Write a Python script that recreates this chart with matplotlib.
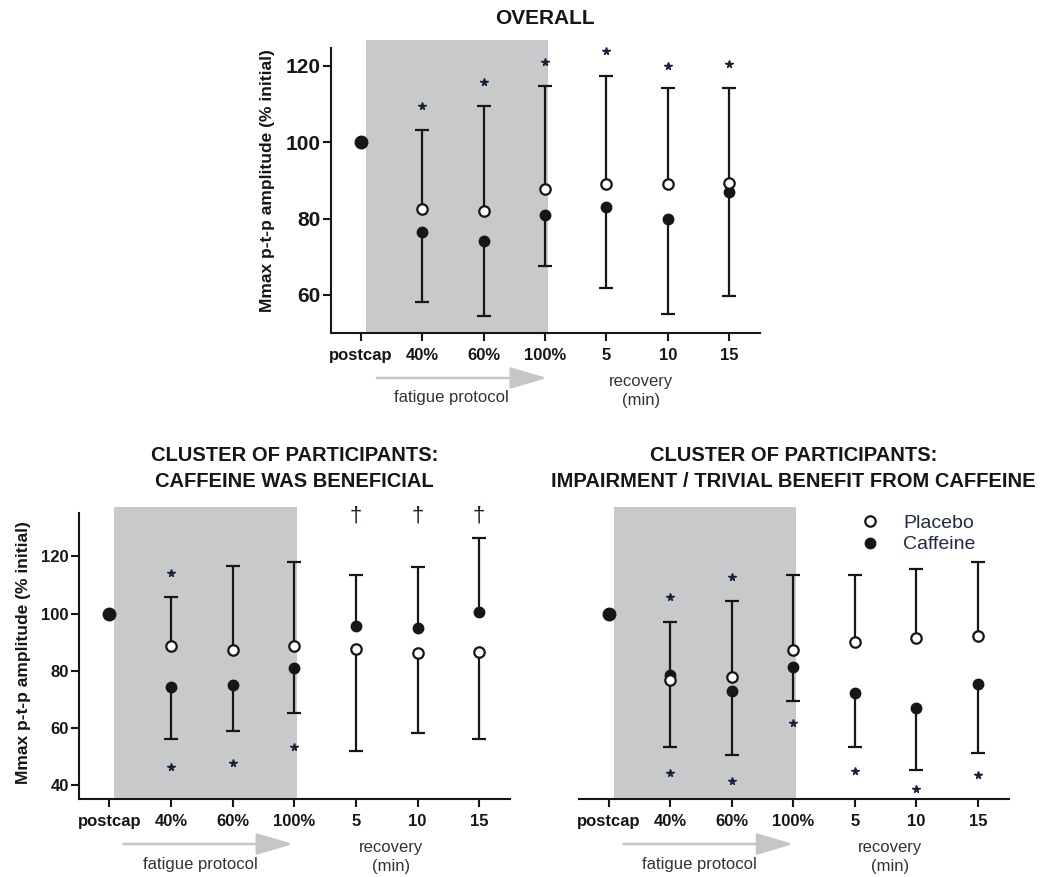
'''
Mmax peak-to-peak amplitude during the fatigue protocol and recovery,
placebo vs caffeine, overall and for the two participant clusters.
'''

# Modules
import numpy as np
import matplotlib
matplotlib.use('Agg')
from matplotlib import pyplot as plt
from matplotlib import transforms as mtransforms

plt.rcParams['font.family'] = ['Liberation Sans', 'DejaVu Sans']

# Data
positions = ['postcap', '40%', '60%', '100%', '5', '10', '15']

overall_placebo = [np.nan, 82.4, 81.9, 87.8, 89.1, 89.1, 89.3]
overall_caffeine = [100, 76.4, 74.0, 81.0, 83.1, 79.9, 86.9]
overall_err_hi = [np.nan, 103.2, 109.5, 114.7, 117.4, 114.2, 114.2]
overall_err_lo = [np.nan, 58.1, 54.5, 67.6, 61.8, 55.0, 59.8]
overall_stars_hi = [np.nan, 109.6, 115.9, 121.1, 123.8, 120.1, 120.5]
overall_stars_lo = [np.nan] * 7

benefit_placebo = [np.nan, 88.7, 87.1, 88.7, 87.6, 86.2, 86.4]
benefit_caffeine = [100, 74.4, 75.0, 80.8, 95.7, 94.8, 100.5]
benefit_err_hi = [np.nan, 105.7, 116.7, 118.1, 113.3, 116.2, 126.5]
benefit_err_lo = [np.nan, 56.2, 59.0, 65.1, 51.9, 58.1, 56.2]
benefit_stars_hi = [np.nan, 114.2, np.nan, np.nan, np.nan, np.nan, np.nan]
benefit_stars_lo = [np.nan, 46.4, 47.8, 53.4, np.nan, np.nan, np.nan]
benefit_daggers = [np.nan, np.nan, np.nan, np.nan, 134, 134, 134]

trivial_placebo = [np.nan, 76.9, 77.7, 87.1, 90.2, 91.4, 92.3]
trivial_caffeine = [100, 78.6, 73.1, 81.4, 72.2, 67.0, 75.3]
trivial_err_hi = [np.nan, 97.2, 104.2, 113.3, 113.3, 115.5, 118.1]
trivial_err_lo = [np.nan, 53.4, 50.6, 69.3, 53.4, 45.5, 51.3]
trivial_stars_hi = [np.nan, 105.9, 112.9, np.nan, np.nan, np.nan, np.nan]
trivial_stars_lo = [np.nan, 44.3, 41.5, 61.7, 44.9, 38.7, 43.5]

ink = '#161616'
shade = '#c8c9cb'
star_col = '#1b1f3a'
ylabel = 'Mmax p-t-p amplitude (% initial)'


def draw_panel(ax, placebo, caffeine, err_hi, err_lo, stars_hi, stars_lo):
    """
    Shaded fatigue block, one-sided SD bars, both series and the markers
    of significance.
    """

    x = np.arange(len(positions))
    pla = np.array(placebo, dtype=float)
    caf = np.array(caffeine, dtype=float)
    upper = np.fmax(pla, caf)
    lower = np.fmin(pla, caf)

    ax.axvspan(0.08, 3.04, color=shade, lw=0, zorder=0)

    ax.vlines(x, upper, err_hi, color=ink, lw=1.6, zorder=2)
    ax.vlines(x, lower, err_lo, color=ink, lw=1.6, zorder=2)
    ax.plot(x, err_hi, ls='none', marker='_', ms=10, mew=1.6, color=ink,
            zorder=2)
    ax.plot(x, err_lo, ls='none', marker='_', ms=10, mew=1.6, color=ink,
            zorder=2)

    caf_line, = ax.plot(x[1:], caf[1:], ls='none', marker='o', ms=7.5,
                        color=ink, zorder=3)
    ax.plot(x[:1], caf[:1], ls='none', marker='o', ms=9, color=ink,
            zorder=3)
    pla_line, = ax.plot(x, pla, ls='none', marker='o', ms=7.5, mfc='white',
                        mec=ink, mew=1.6, zorder=4)

    ax.plot(x, stars_hi, ls='none', marker='*', ms=5.5, color=star_col,
            zorder=5)
    ax.plot(x, stars_lo, ls='none', marker='*', ms=5.5, color=star_col,
            zorder=5)

    return pla_line, caf_line


def style_axes(ax, ylim, ybounds, yticks, ytick_size, show_y=True):

    ax.set_xlim(-0.49, 6.5)
    ax.set_ylim(*ylim)
    ax.set_xticks(np.arange(len(positions)))
    ax.set_xticklabels(positions, fontsize=12, fontweight='bold')
    ax.spines['top'].set_visible(False)
    ax.spines['right'].set_visible(False)
    ax.spines['bottom'].set_linewidth(1.5)
    ax.spines['left'].set_linewidth(1.5)
    ax.spines['bottom'].set_color(ink)
    ax.spines['left'].set_color(ink)
    ax.tick_params(axis='x', direction='out', length=5.5, width=1.5,
                   pad=5.5, color=ink, labelcolor=ink)

    if show_y:
        ax.spines['left'].set_bounds(*ybounds)
        ax.set_yticks(yticks)
        ax.set_yticklabels([str(t) for t in yticks], fontsize=ytick_size,
                           fontweight='bold')
        ax.tick_params(axis='y', direction='out', length=5.5, width=1.5,
                       pad=2, color=ink, labelcolor=ink)
    else:
        ax.spines['left'].set_visible(False)
        ax.set_yticks([])


def draw_protocol(fig, ax, arrow_from, arrow_to):
    """
    Grey arrow with 'fatigue protocol' and the 'recovery (min)' note under
    the x axis.
    """

    base = ax.get_xaxis_transform()
    arrow_tr = mtransforms.offset_copy(base, fig=fig, y=-45, units='dots')
    ax.annotate('', xy=(arrow_to, 0), xytext=(arrow_from, 0),
                xycoords=arrow_tr, textcoords=arrow_tr,
                annotation_clip=False,
                arrowprops=dict(arrowstyle='-|>,head_length=2.3,head_width=0.68',
                                color='#c6c6c6', lw=1.8, shrinkA=0, shrinkB=0,
                                mutation_scale=10))

    text_tr = mtransforms.offset_copy(base, fig=fig, y=-65, units='dots')
    ax.text(1.48, 0, 'fatigue protocol', transform=text_tr, ha='center',
            va='center', fontsize=12, color='#333333', clip_on=False)

    rec_tr = mtransforms.offset_copy(base, fig=fig, y=-58, units='dots')
    ax.text(4.57, 0, 'recovery\n(min)', transform=rec_tr, ha='center',
            va='center', fontsize=12, color='#333333', linespacing=1.3,
            clip_on=False)


def main():

    fig = plt.figure(figsize=(10.47, 8.77), dpi=100)

    # Overall
    ax1 = fig.add_axes([0.3161, 0.6203, 0.4097, 0.3341])
    draw_panel(ax1, overall_placebo, overall_caffeine, overall_err_hi,
               overall_err_lo, overall_stars_hi, overall_stars_lo)
    style_axes(ax1, (50.0, 126.8), (50.0, 124.7), [60, 80, 100, 120], 15)
    ax1.set_ylabel(ylabel, fontsize=12.5, fontweight='bold', color=ink)
    ax1.yaxis.set_label_coords(-0.131, 0.52)
    ax1.text(0.5, 1.075, 'OVERALL', transform=ax1.transAxes, ha='center',
             va='center', fontsize=15, fontweight='bold', color=ink)
    draw_protocol(fig, ax1, 0.26, 3.03)

    # Cluster: caffeine was beneficial
    ax2 = fig.add_axes([0.0757, 0.0889, 0.4114, 0.3333])
    draw_panel(ax2, benefit_placebo, benefit_caffeine, benefit_err_hi,
               benefit_err_lo, benefit_stars_hi, benefit_stars_lo)
    style_axes(ax2, (35.2, 137.3), (35.2, 135.2), [40, 60, 80, 100, 120], 12)
    ax2.set_ylabel(ylabel, fontsize=12.5, fontweight='bold', color=ink)
    ax2.yaxis.set_label_coords(-0.113, 0.5)
    ax2.text(0.5, 1.131,
             'CLUSTER OF PARTICIPANTS:\nCAFFEINE WAS BENEFICIAL',
             transform=ax2.transAxes, ha='center', va='center',
             fontsize=14.5, fontweight='bold', color=ink, linespacing=1.5)
    for xi, yi in zip(range(len(positions)), benefit_daggers):
        if not np.isnan(yi):
            ax2.text(xi, yi, '\u2020', ha='center', va='center',
                     fontsize=16, color=star_col)
    draw_protocol(fig, ax2, 0.23, 2.98)

    # Cluster: impairment / trivial benefit
    ax3 = fig.add_axes([0.5527, 0.0889, 0.4107, 0.3333])
    pla_line, caf_line = draw_panel(ax3, trivial_placebo, trivial_caffeine,
                                    trivial_err_hi, trivial_err_lo,
                                    trivial_stars_hi, trivial_stars_lo)
    style_axes(ax3, (35.2, 137.3), None, None, None, show_y=False)
    ax3.text(0.5, 1.131,
             'CLUSTER OF PARTICIPANTS:\n'
             'IMPAIRMENT / TRIVIAL BENEFIT FROM CAFFEINE',
             transform=ax3.transAxes, ha='center', va='center',
             fontsize=14.5, fontweight='bold', color=ink, linespacing=1.5)
    ax3.legend([pla_line, caf_line], ['Placebo', 'Caffeine'],
               loc='upper left', bbox_to_anchor=(0.655, 0.974), frameon=False,
               fontsize=14, handlelength=1.0, handletextpad=1.2,
               labelspacing=0.2, borderpad=0, borderaxespad=0,
               labelcolor='#1f2a44')
    draw_protocol(fig, ax3, 0.24, 3.0)

    plt.savefig('out.png', dpi=100)

    return None


if __name__ == '__main__':
    main()
